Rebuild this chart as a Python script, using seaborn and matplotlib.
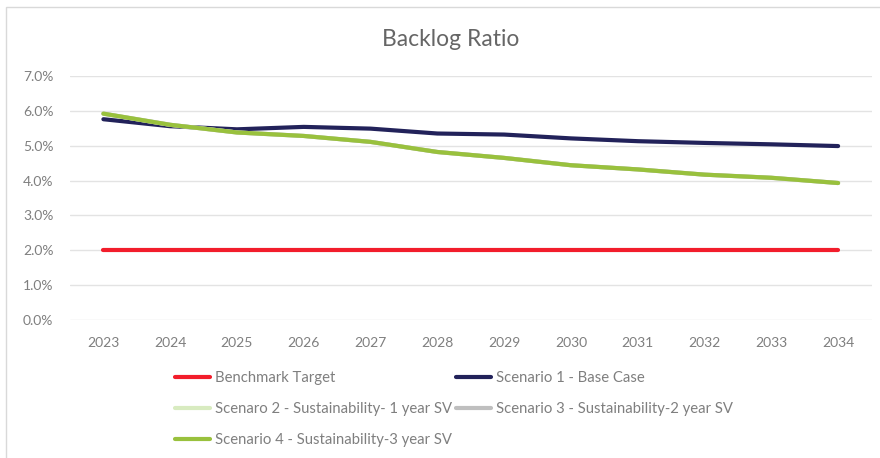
import matplotlib
matplotlib.use("Agg")
import matplotlib.pyplot as plt
import matplotlib.patches as mpatches
from matplotlib.lines import Line2D
from matplotlib.ticker import PercentFormatter
import seaborn as sns
import pandas as pd

years = list(range(2023, 2035))

benchmark = [0.020] * 12
scenario_1 = [0.0576, 0.0556, 0.0547, 0.0554, 0.0549, 0.0535, 0.0532, 0.0521, 0.0513, 0.0508, 0.0504, 0.0499]
scenario_2 = [0.0592, 0.0560, 0.0538, 0.0528, 0.0511, 0.0482, 0.0465, 0.0444, 0.0432, 0.0417, 0.0408, 0.0393]
scenario_3 = [0.0592, 0.0560, 0.0538, 0.0528, 0.0511, 0.0482, 0.0465, 0.0444, 0.0432, 0.0417, 0.0408, 0.0393]
scenario_4 = [0.0592, 0.0560, 0.0538, 0.0528, 0.0511, 0.0482, 0.0465, 0.0444, 0.0432, 0.0417, 0.0408, 0.0393]

labels = ["Benchmark Target", "Scenario 1 - Base Case", "Scenaro 2 - Sustainability- 1 year SV",
          "Scenario 3 - Sustainability-2 year SV", "Scenario 4 - Sustainability-3 year SV"]
colors = ["#F21D2B", "#22225A", "#D8EBC0", "#BFBFBF", "#99C13D"]
series = [benchmark, scenario_1, scenario_2, scenario_3, scenario_4]

frames = []
for lab, vals in zip(labels, series):
    frames.append(pd.DataFrame({"year": years, "ratio": vals, "series": lab}))
df = pd.concat(frames, ignore_index=True)

sns.set_style("white")
plt.rcParams["font.family"] = ["Lato", "DejaVu Sans"]

fig = plt.figure(figsize=(8.8, 4.58), dpi=100)
ax = fig.add_axes([70 / 880, 1 - 320 / 458, (871.5 - 70) / 880, (320 - 76) / 458])

# chart border
fig.patches.append(mpatches.Rectangle((6 / 880, -0.05), 1.0, 1 - 7 / 458 + 0.05, transform=fig.transFigure,
                                      fill=False, edgecolor="#D9D9D9", linewidth=1))

sns.lineplot(data=df, x="year", y="ratio", hue="series", palette=dict(zip(labels, colors)),
             linewidth=3, legend=False, ax=ax, sort=False)

ax.set_xlim(2022.5, 2034.5)
ax.set_ylim(0, 0.07)
ax.set_xticks(years)
ax.set_yticks([i / 100 for i in range(8)])
ax.yaxis.set_major_formatter(PercentFormatter(1.0, decimals=1))
ax.grid(axis="y", color="#E3E3E3", linewidth=1)
ax.set_axisbelow(True)
for s in ax.spines.values():
    s.set_visible(False)
ax.tick_params(axis="both", length=0, labelsize=10, labelcolor="#7F7F7F")
ax.tick_params(axis="y", pad=12)
ax.tick_params(axis="x", pad=12)
ax.set_xlabel("")
ax.set_ylabel("")

fig.text(451 / 880, 1 - 40 / 458, "Backlog Ratio", ha="center", va="center", fontsize=16.5,
         color="#666666")

handles = [Line2D([], [], color=c, linewidth=3) for c in colors]
order = [0, 2, 4, 1, 3]
fig.legend([handles[i] for i in order], [labels[i] for i in order], ncol=2, loc="upper left",
           bbox_to_anchor=(175 / 880, 1 - 371 / 458), frameon=False, fontsize=10.7,
           labelcolor="#7F7F7F", handlelength=2.35, handletextpad=0.33, columnspacing=0.3,
           labelspacing=1.15, borderpad=0, borderaxespad=0)

fig.savefig("out.png", dpi=100)
